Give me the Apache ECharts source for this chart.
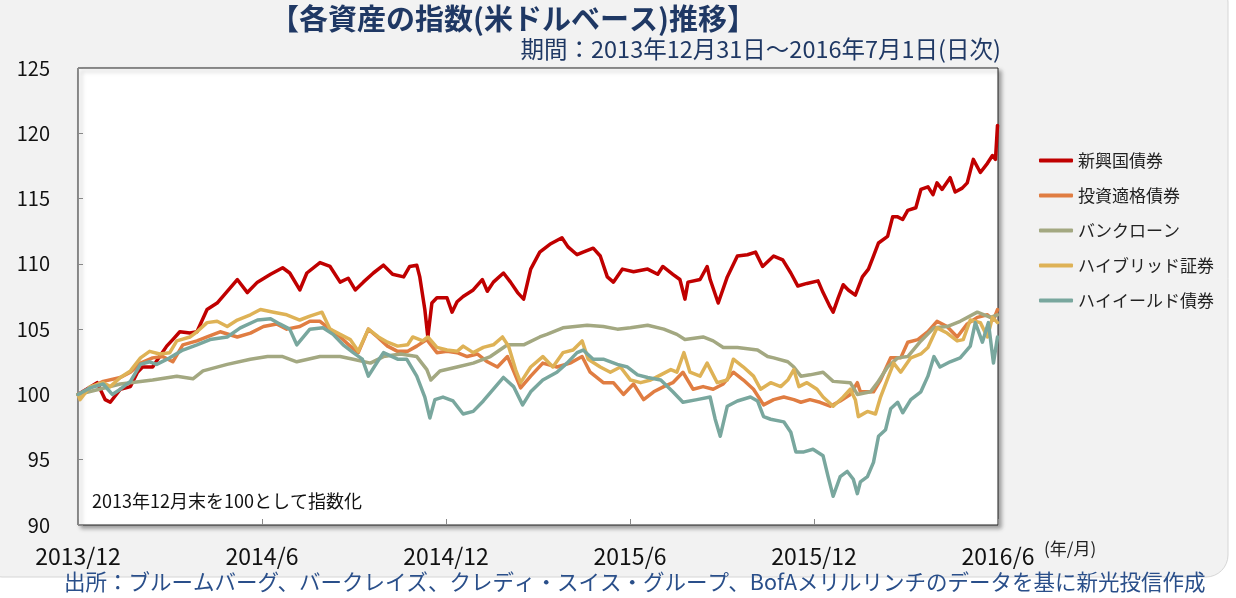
<!DOCTYPE html>
<html>
<head>
<meta charset="utf-8">
<script src="https://cdn.jsdelivr.net/npm/echarts@6/dist/echarts.min.js"></script>
<style>
  html, body { margin: 0; padding: 0; background: #fff; }
  #main { width: 1236px; height: 598px; }
</style>
</head>
<body>
<div id="main"></div>
<script>
// x は 2013/12/31 からの経過日数
const tickLabels = ["2013/12", "2014/6", "2014/12", "2015/6", "2015/12", "2016/6"];
const seriesNames = ["新興国債券", "投資適格債券", "バンクローン", "ハイブリッド証券", "ハイイールド債券"];

const emBond = [[0,100.0],[19,100.9],[27,99.6],[32,99.4],[42,100.4],[52,100.6],[59,101.7],[64,102.1],[74,102.1],[81,102.9],[88,103.7],[94,104.2],[101,104.8],[111,104.7],[118,104.8],[128,106.5],[138,107.0],[148,107.9],[158,108.8],[168,107.8],[178,108.6],[191,109.2],[203,109.7],[210,109.3],[220,108.0],[227,109.3],[240,110.1],[250,109.8],[260,108.6],[268,108.9],[275,108.0],[283,108.6],[293,109.3],[303,109.9],[312,109.2],[323,109.0],[329,109.8],[336,109.9],[339,109.0],[344,106.5],[347,104.4],[351,107.0],[356,107.4],[366,107.4],[371,106.3],[376,107.1],[382,107.5],[392,108.0],[401,108.8],[406,107.9],[412,108.6],[422,109.3],[429,108.6],[436,107.8],[442,107.3],[449,109.6],[458,110.9],[468,111.5],[480,112.0],[486,111.3],[495,110.7],[501,110.9],[511,111.2],[518,110.6],[525,109.0],[531,108.6],[540,109.6],[551,109.4],[565,109.6],[575,109.2],[580,109.8],[590,109.2],[597,108.8],[602,107.3],[605,108.6],[617,108.8],[624,109.8],[627,108.8],[635,107.0],[644,109.0],[654,110.6],[664,110.7],[672,110.9],[679,109.8],[690,110.6],[699,110.3],[707,109.3],[714,108.3],[723,108.5],[734,108.7],[739,107.8],[746,106.7],[749,106.3],[754,107.4],[759,108.4],[764,108.0],[771,107.6],[778,109.0],[784,109.6],[789,110.6],[794,111.6],[803,112.1],[808,113.6],[813,113.6],[818,113.4],[823,114.1],[831,114.3],[836,115.7],[843,115.9],[848,115.3],[852,116.2],[857,115.7],[865,116.6],[870,115.5],[877,115.8],[882,116.2],[888,118.0],[895,117.0],[902,117.7],[907,118.3],[910,118.0],[912,120.6]];

const igBond = [[0,100.0],[12,100.5],[25,101.0],[42,101.3],[52,101.7],[62,102.4],[74,102.8],[84,102.9],[94,102.5],[104,103.8],[118,104.1],[128,104.4],[141,104.8],[158,104.4],[171,104.7],[184,105.2],[197,105.4],[207,105.0],[220,105.2],[230,105.6],[240,105.6],[250,105.0],[260,104.4],[270,103.7],[278,103.2],[288,105.0],[297,104.4],[307,103.7],[317,103.3],[327,103.3],[336,103.7],[346,104.2],[356,103.2],[366,103.3],[376,103.2],[386,102.9],[396,103.1],[406,102.5],[416,102.1],[426,102.9],[432,101.8],[439,100.5],[449,101.4],[461,102.4],[475,102.1],[488,102.4],[500,102.9],[508,101.7],[521,100.9],[531,100.9],[541,100.0],[551,100.8],[561,99.6],[571,100.2],[581,100.6],[590,100.9],[600,101.7],[610,100.4],[620,100.6],[630,100.4],[640,100.8],[650,101.7],[660,101.1],[670,100.4],[680,99.2],[690,99.6],[700,99.8],[710,99.6],[717,99.4],[726,99.6],[736,99.4],[746,99.1],[756,99.5],[766,100.0],[773,100.9],[776,100.2],[789,100.2],[796,101.1],[806,102.8],[816,102.8],[823,104.0],[833,104.2],[843,104.8],[852,105.6],[862,105.2],[872,104.4],[882,105.4],[892,105.9],[902,106.1],[908,105.7],[912,106.5]];

const bankLoan = [[0,100.0],[42,100.8],[74,101.1],[98,101.4],[114,101.2],[124,101.8],[148,102.3],[171,102.7],[188,102.9],[203,102.9],[217,102.5],[240,102.9],[260,102.9],[273,102.7],[290,102.4],[303,102.9],[320,103.1],[336,102.9],[346,101.9],[350,101.1],[359,101.8],[376,102.1],[392,102.4],[409,102.9],[426,103.8],[442,103.8],[458,104.4],[465,104.6],[481,105.1],[505,105.3],[521,105.2],[535,105.0],[548,105.1],[565,105.3],[581,105.0],[594,104.6],[602,104.2],[620,104.4],[630,104.1],[640,103.6],[654,103.6],[674,103.4],[684,102.9],[690,102.8],[704,102.5],[710,102.1],[717,101.4],[726,101.5],[739,101.7],[749,101.0],[766,100.9],[773,100.0],[786,100.2],[793,100.9],[803,102.1],[813,102.8],[823,102.9],[836,104.1],[849,105.1],[862,105.2],[875,105.6],[892,106.3],[905,105.9],[912,106.1]];

const hybrid = [[0,100.0],[2,99.6],[12,100.6],[25,100.9],[32,100.6],[42,101.3],[52,101.8],[62,102.8],[71,103.3],[81,103.1],[91,103.2],[98,104.1],[111,104.4],[118,104.8],[128,105.5],[138,105.6],[148,105.2],[158,105.7],[171,106.1],[181,106.5],[194,106.3],[207,106.1],[220,105.7],[230,106.0],[242,106.3],[250,105.0],[260,104.6],[270,104.2],[278,103.3],[288,105.0],[298,104.4],[307,104.0],[317,103.7],[327,103.8],[332,104.4],[342,104.1],[347,104.4],[356,103.6],[366,103.4],[376,103.3],[382,103.7],[392,103.2],[402,103.6],[412,103.8],[421,104.4],[427,103.7],[434,101.9],[439,100.9],[449,102.1],[461,102.9],[471,102.1],[481,103.2],[491,103.4],[500,104.1],[506,102.7],[518,102.1],[528,101.7],[538,102.1],[548,101.1],[558,100.9],[568,101.1],[578,101.5],[588,101.9],[594,101.7],[601,103.2],[607,101.7],[617,101.4],[624,102.4],[634,100.9],[644,101.1],[650,102.7],[660,102.1],[670,101.4],[677,100.4],[687,100.9],[697,100.6],[704,101.1],[710,101.9],[715,100.6],[723,100.9],[733,100.4],[739,99.8],[749,99.1],[759,99.8],[766,100.4],[771,99.6],[774,98.3],[783,98.7],[791,98.5],[796,99.8],[804,101.4],[809,102.4],[816,101.7],[826,102.8],[836,103.1],[843,103.6],[852,105.1],[862,104.7],[872,104.1],[878,104.2],[885,105.7],[895,105.5],[902,104.4],[907,105.9],[912,105.5]];

const highYield = [[0,100.0],[12,100.5],[25,100.8],[34,100.0],[42,100.4],[52,101.0],[62,102.3],[71,102.5],[78,102.3],[91,102.8],[104,103.4],[118,103.8],[131,104.2],[148,104.4],[161,105.1],[178,105.7],[191,105.8],[200,105.4],[210,105.0],[217,103.8],[230,105.0],[243,105.1],[253,104.6],[263,103.8],[273,103.2],[282,102.7],[288,101.4],[297,102.5],[303,103.2],[317,102.7],[326,102.7],[336,101.4],[344,99.8],[349,98.2],[354,99.6],[362,99.8],[372,99.5],[382,98.5],[392,98.7],[402,99.5],[412,100.4],[422,101.3],[432,100.6],[441,99.2],[449,100.2],[461,101.1],[475,101.7],[485,102.4],[495,103.2],[501,103.4],[511,102.7],[521,102.7],[535,102.3],[545,102.1],[555,101.5],[565,101.3],[578,101.1],[590,100.2],[600,99.4],[614,99.6],[627,99.8],[632,98.1],[637,96.8],[644,99.1],[654,99.5],[667,99.8],[674,99.5],[680,98.3],[687,98.1],[700,97.9],[707,97.1],[712,95.6],[720,95.6],[729,95.8],[739,95.3],[744,93.7],[749,92.2],[756,93.7],[763,94.1],[769,93.5],[773,92.4],[776,93.3],[783,93.7],[789,94.8],[794,96.8],[801,97.3],[806,98.9],[813,99.4],[818,98.6],[826,99.6],[836,100.2],[843,101.4],[849,102.9],[855,102.1],[865,102.5],[875,102.8],[885,103.7],[890,105.5],[897,104.0],[903,105.5],[908,102.4],[912,104.4]];

const colors = ["#c00000", "#e07d42", "#a3a881", "#deb256", "#79a79e"];
const font = '"Noto Sans CJK JP", "Noto Sans", sans-serif';

const chart = echarts.init(document.getElementById("main"));

function makeLine(name, data, color) {
  return {
    name: name,
    type: "line",
    data: data,
    symbol: "none",
    showSymbol: false,
    lineStyle: { width: 3.5, color: color, cap: "round", join: "round" },
    itemStyle: { color: color }
  };
}

const option = {
  animation: false,
  backgroundColor: "#ffffff",
  textStyle: { fontFamily: font },
  graphic: [
    {
      type: "rect", z: -10, silent: true,
      shape: { x: -20, y: -20, width: 1248, height: 597, r: 22 },
      style: { fill: "#f2f2f2", stroke: "#d6d6d6", lineWidth: 1 }
    },
    {
      type: "text", left: 270, top: 4,
      style: { text: "【各資産の指数(米ドルベース)推移】", fill: "#1f3864", font: "bold 29px " + font, letterSpacing: 2 }
    },
    {
      type: "text", right: 235, top: 37,
      style: { text: "期間：2013年12月31日～2016年7月1日(日次)", fill: "#1f3864", font: "23.5px " + font, letterSpacing: 1.8 }
    },
    {
      type: "text", left: 1044, top: 540,
      style: { text: "(年/月)", fill: "#222", font: "17px " + font, letterSpacing: 2 }
    },
    {
      type: "text", left: 92, top: 492,
      style: { text: "2013年12月末を100として指数化", fill: "#111", font: "18px " + font, letterSpacing: 1.5 }
    },
    {
      type: "text", left: 64, top: 571,
      style: { text: "出所：ブルームバーグ、バークレイズ、クレディ・スイス・グループ、BofAメリルリンチのデータを基に新光投信作成", fill: "#2a4f8a", font: "21.5px " + font, letterSpacing: 0.8 }
    }
  ],
  legend: {
    orient: "vertical",
    left: 1034,
    top: 147,
    itemWidth: 34,
    itemHeight: 4,
    itemGap: 18,
    icon: "roundRect",
    data: seriesNames,
    textStyle: { fontSize: 17, color: "#222", fontFamily: font }
  },
  grid: {
    left: 78, top: 68, width: 920, height: 457,
    outerBoundsMode: "none",
    show: true,
    backgroundColor: "#ffffff",
    borderColor: "#222",
    borderWidth: 1,
    shadowColor: "rgba(0,0,0,0.35)",
    shadowBlur: 4,
    shadowOffsetX: 3,
    shadowOffsetY: 3
  },
  xAxis: {
    type: "value",
    min: 0,
    max: 912.5,
    interval: 182.5,
    axisLine: { show: false },
    axisTick: { show: true, inside: true, length: 6, lineStyle: { color: "#888" } },
    splitLine: { show: false },
    axisLabel: {
      margin: 20,
      fontSize: 23,
      color: "#111",
      fontFamily: font,
      formatter: function (v) { return tickLabels[Math.round(v / 182.5)] || ""; }
    }
  },
  yAxis: {
    type: "value",
    min: 90,
    max: 125,
    interval: 5,
    axisLine: { show: false },
    axisTick: { show: true, inside: true, length: 5, lineStyle: { color: "#888" } },
    splitLine: { show: false },
    axisLabel: { margin: 28, fontSize: 20, color: "#111", fontFamily: font }
  },
  series: [
    makeLine(seriesNames[0], emBond, colors[0]),
    makeLine(seriesNames[1], igBond, colors[1]),
    makeLine(seriesNames[2], bankLoan, colors[2]),
    makeLine(seriesNames[3], hybrid, colors[3]),
    makeLine(seriesNames[4], highYield, colors[4])
  ]
};

chart.setOption(option);
</script>
</body>
</html>
